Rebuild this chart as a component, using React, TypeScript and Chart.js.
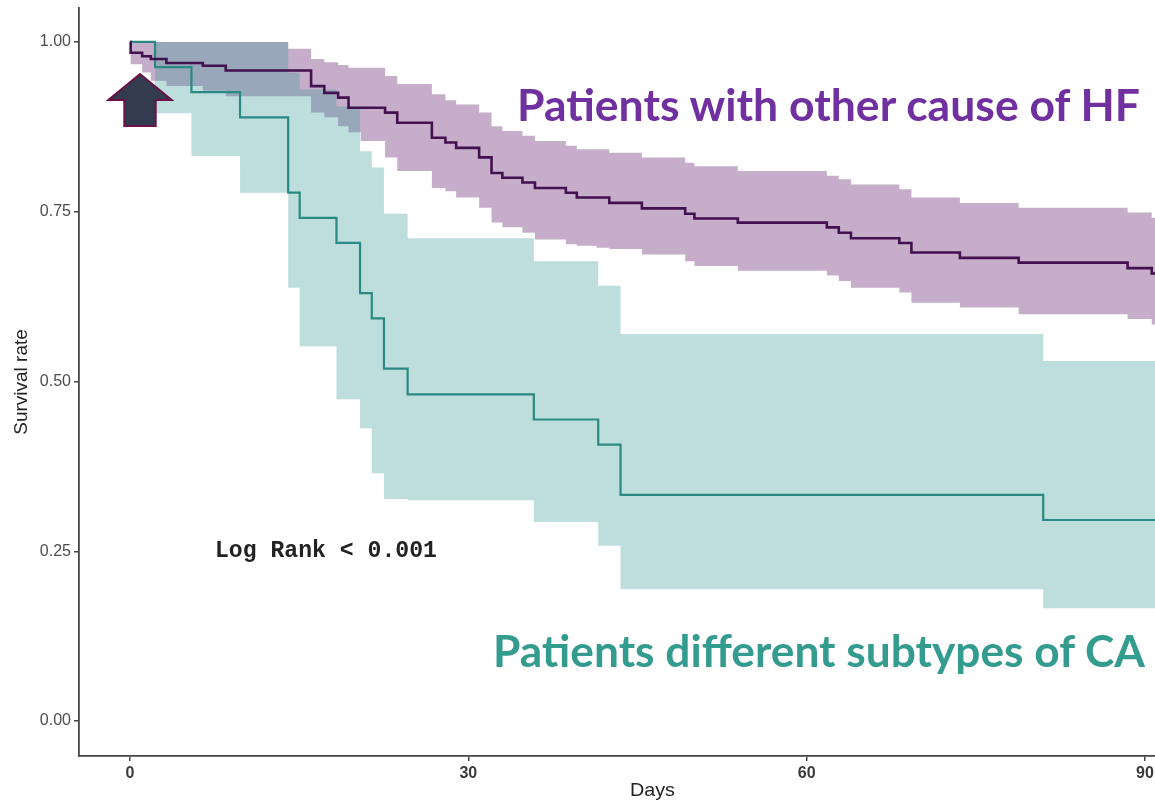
import React, { useEffect, useLayoutEffect, useRef } from 'react';
import { Chart, registerables } from 'chart.js';

Chart.register(...registerables);

// ---- axis ticks ----
const X_TICKS = [0, 30, 60, 90];
const Y_TICKS = [0, 0.25, 0.5, 0.75, 1];

// ---- Patients with other cause of HF (Kaplan-Meier step curve) ----
const HF_DAYS = [0, 0.06, 1.08, 1.85, 3.23, 6.46, 8.49, 16.06, 17.23, 18.46, 19.38, 22.62, 23.7, 26.77, 27.97, 28.92, 30.96, 32.06, 33.02, 34.8, 35.91, 38.65, 39.62, 42.5, 45.39, 49.23, 50.05, 53.9, 61.79, 62.85, 63.93, 68.22, 69.29, 73.59, 78.8, 88.46, 90.6, 90.9];
const HF_SURV = [1, 0.984, 0.979, 0.975, 0.969, 0.965, 0.958, 0.935, 0.925, 0.918, 0.903, 0.896, 0.881, 0.859, 0.852, 0.844, 0.83, 0.807, 0.8, 0.793, 0.785, 0.778, 0.771, 0.763, 0.755, 0.747, 0.74, 0.734, 0.727, 0.719, 0.711, 0.704, 0.69, 0.682, 0.675, 0.667, 0.659, 0.659];

// confidence band of HF
const HF_BAND_DAYS = [0, 0.06, 1.08, 1.85, 3.23, 6.46, 8.49, 14.03, 16.06, 17.23, 18.46, 19.38, 20.46, 22.62, 23.7, 26.77, 27.97, 28.92, 30.96, 32.06, 33.02, 34.8, 35.91, 38.65, 39.62, 41.37, 42.5, 45.39, 49.23, 50.05, 53.9, 61.79, 62.85, 63.93, 68.22, 69.29, 73.59, 78.8, 88.46, 90.6, 90.9];
const HF_UPPER = [1, 1, 1, 1, 1, 1, 1, 0.99, 0.975, 0.97, 0.966, 0.962, 0.962, 0.95, 0.938, 0.923, 0.914, 0.908, 0.896, 0.876, 0.869, 0.862, 0.854, 0.847, 0.842, 0.842, 0.837, 0.83, 0.822, 0.817, 0.81, 0.803, 0.798, 0.79, 0.783, 0.771, 0.763, 0.756, 0.749, 0.741, 0.741];
const HF_LOWER = [1, 0.967, 0.955, 0.943, 0.935, 0.928, 0.92, 0.92, 0.896, 0.889, 0.876, 0.867, 0.854, 0.83, 0.81, 0.785, 0.78, 0.771, 0.756, 0.734, 0.727, 0.719, 0.709, 0.702, 0.7, 0.697, 0.695, 0.687, 0.677, 0.67, 0.663, 0.656, 0.648, 0.638, 0.631, 0.616, 0.609, 0.599, 0.592, 0.584, 0.584];

// ---- Patients with different subtypes of CA ----
const CA_DAYS = [0, 2.22, 5.45, 9.76, 14.03, 15.05, 18.31, 20.4, 21.44, 22.52, 24.62, 35.81, 41.52, 43.5, 80.98, 90.9];
const CA_SURV = [1, 0.963, 0.926, 0.889, 0.778, 0.741, 0.704, 0.63, 0.593, 0.519, 0.481, 0.444, 0.407, 0.333, 0.296, 0.296];
const CA_UPPER = [1, 1, 1, 1, 0.955, 0.93, 0.905, 0.839, 0.815, 0.747, 0.711, 0.677, 0.641, 0.57, 0.53, 0.53];
const CA_LOWER = [1, 0.895, 0.832, 0.778, 0.638, 0.552, 0.474, 0.431, 0.365, 0.327, 0.325, 0.293, 0.258, 0.194, 0.166, 0.166];

// ---- texts ----
const Y_TITLE = 'Survival rate';
const X_TITLE = 'Days';
const HF_LABEL = 'Patients with other cause of HF';
const CA_LABEL = 'Patients different subtypes of CA';
const PVALUE_LABEL = 'Log Rank < 0.001';

const X_MIN = -4.52;
const X_MAX = 94.88;
const Y_MIN = -0.0515;
const Y_MAX = 1.05;

const pts = (days: number[], vals: number[]) => days.map((d, i) => ({ x: d, y: vals[i] }));

function FitText(props: {
  text: string; left: number; top: number; width: number; size: number;
  family: string; weight: string | number; color: string;
}) {
  const ref = useRef<HTMLSpanElement>(null);
  useLayoutEffect(() => {
    const el = ref.current;
    if (!el) return;
    el.style.transform = 'none';
    const w = el.getBoundingClientRect().width;
    if (w > 0) el.style.transform = `scaleX(${props.width / w})`;
  }, [props.text, props.width, props.size]);
  return (
    <span
      ref={ref}
      style={{
        position: 'absolute', left: props.left, top: props.top, fontSize: props.size,
        fontFamily: props.family, fontWeight: props.weight as any, color: props.color,
        lineHeight: 1, whiteSpace: 'nowrap', transformOrigin: '0 0',
      }}
    >
      {props.text}
    </span>
  );
}

export default function App() {
  const canvasRef = useRef<HTMLCanvasElement>(null);

  useEffect(() => {
    const canvas = canvasRef.current;
    if (!canvas) return;
    const purpleBand = 'rgba(82, 9, 97, 0.33)';
    const tealBand = 'rgba(58, 152, 152, 0.33)';
    const chart = new Chart(canvas, {
      type: 'line',
      data: {
        datasets: [
          { label: 'HF', data: pts(HF_DAYS, HF_SURV), stepped: true, borderColor: '#43114f', borderWidth: 2.6, fill: false, order: 0, pointRadius: 0 },
          { label: 'CA', data: pts(CA_DAYS, CA_SURV), stepped: true, borderColor: '#2a8a83', borderWidth: 2.2, fill: false, order: 0, pointRadius: 0 },
          { label: 'HF lower', data: pts(HF_BAND_DAYS, HF_LOWER), stepped: true, borderWidth: 0, borderColor: 'transparent', fill: false, order: 2, pointRadius: 0 },
          { label: 'HF upper', data: pts(HF_BAND_DAYS, HF_UPPER), stepped: true, borderWidth: 0, borderColor: 'transparent', backgroundColor: purpleBand, fill: '-1', order: 2, pointRadius: 0 },
          { label: 'CA lower', data: pts(CA_DAYS, CA_LOWER), stepped: true, borderWidth: 0, borderColor: 'transparent', fill: false, order: 1, pointRadius: 0 },
          { label: 'CA upper', data: pts(CA_DAYS, CA_UPPER), stepped: true, borderWidth: 0, borderColor: 'transparent', backgroundColor: tealBand, fill: '-1', order: 1, pointRadius: 0 },
        ],
      },
      options: {
        animation: false,
        responsive: false,
        devicePixelRatio: 1,
        layout: { padding: { top: 8, left: 0, right: 0, bottom: 0 } },
        plugins: {
          legend: { display: false },
          tooltip: { enabled: false },
          filler: { propagate: false },
        },
        elements: { point: { radius: 0 }, line: { borderJoinStyle: 'miter', borderCapStyle: 'butt' } },
        scales: {
          x: {
            type: 'linear',
            min: X_MIN,
            max: X_MAX,
            afterFit: (s: any) => { s.height = 48; s.paddingLeft = 0; s.paddingRight = 0; },
            afterBuildTicks: (s: any) => { s.ticks = X_TICKS.map((v) => ({ value: v })); },
            ticks: {
              color: '#3a3a3a',
              font: { family: 'Liberation Sans', size: 16, weight: 'bold' },
              padding: 3,
              maxRotation: 0,
              callback: (v: any) => String(v),
            },
            grid: { display: true, drawOnChartArea: false, drawTicks: true, tickLength: 5, color: '#444', lineWidth: 1.5 },
            border: { display: true, color: '#444', width: 1.8 },
          },
          y: {
            type: 'linear',
            min: Y_MIN,
            max: Y_MAX,
            afterFit: (s: any) => { s.width = 79; s.paddingTop = 0; s.paddingBottom = 0; },
            afterBuildTicks: (s: any) => { s.ticks = Y_TICKS.map((v) => ({ value: v })); },
            ticks: {
              color: '#4d4d4d',
              font: { family: 'Liberation Sans', size: 16 },
              padding: 3,
              callback: (v: any) => Number(v).toFixed(2),
            },
            grid: { display: true, drawOnChartArea: false, drawTicks: true, tickLength: 5, color: '#444', lineWidth: 1.5 },
            border: { display: true, color: '#444', width: 1.8 },
            title: {
              display: true,
              text: Y_TITLE,
              color: '#222',
              font: { family: 'Liberation Sans', size: 19 },
              padding: { top: 10, bottom: 0 },
            },
          },
        },
      },
    } as any);
    return () => chart.destroy();
  }, []);

  return (
    <div style={{ position: 'fixed', left: 0, top: 0, width: 1155, height: 804, overflow: 'hidden', background: '#fff' }}>
      <canvas ref={canvasRef} width={1200} height={804} style={{ position: 'absolute', left: 0, top: 0, width: 1200, height: 804 }} />
      <svg width={1155} height={804} style={{ position: 'absolute', left: 0, top: 0, pointerEvents: 'none' }}>
        <polygon
          points="140,74 171.7,100 155.7,100 155.7,126 124.3,126 124.3,100 108.3,100"
          fill="#333b4f"
          stroke="#6d1149"
          strokeWidth={2}
          strokeLinejoin="miter"
        />
      </svg>
      <FitText text={HF_LABEL} left={517} top={82} width={623} size={44} family="Lato, 'Open Sans', sans-serif" weight={700} color="#7030a0" />
      <FitText text={CA_LABEL} left={493} top={628} width={652} size={44} family="Lato, 'Open Sans', sans-serif" weight={700} color="#349b8f" />
      <FitText text={PVALUE_LABEL} left={215} top={540} width={222} size={23} family="'Liberation Mono', monospace" weight={700} color="#222" />
      <FitText text={X_TITLE} left={630} top={780} width={45} size={19} family="'Liberation Sans', sans-serif" weight={400} color="#222" />
    </div>
  );
}
